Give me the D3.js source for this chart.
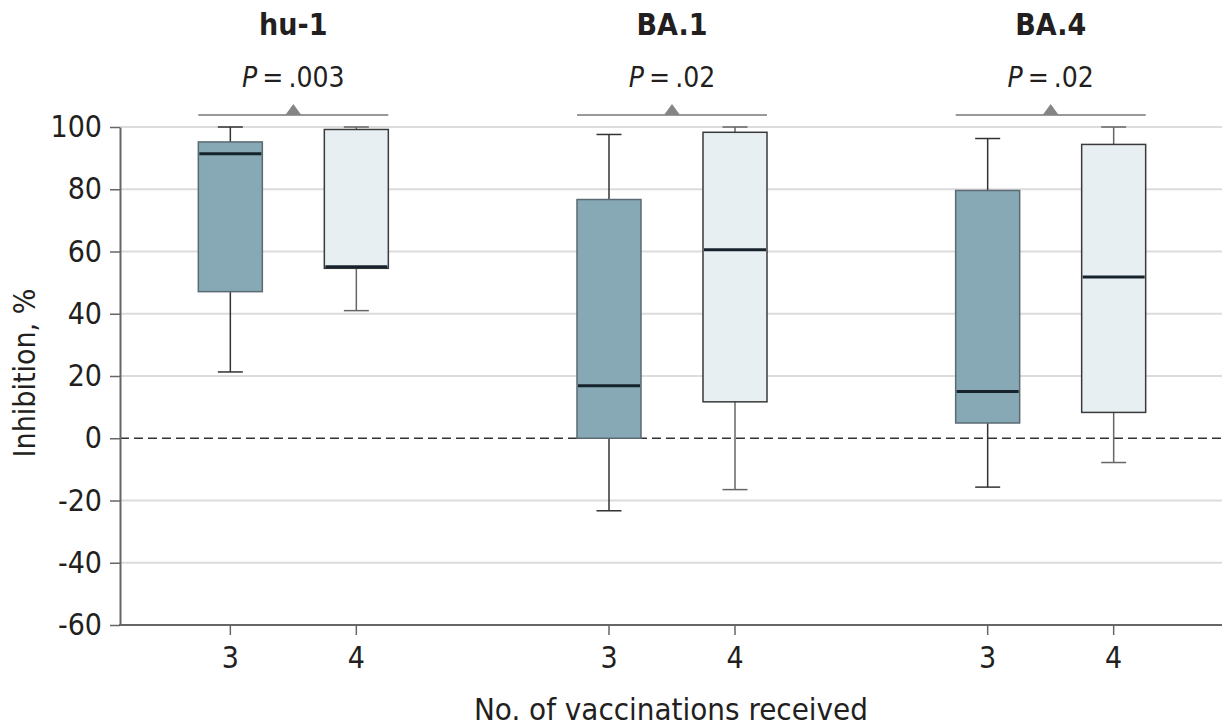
<!DOCTYPE html>
<html>
  <head>
    <meta charset="utf-8">
    <title>Inhibition by number of vaccinations</title>
    <script src="https://d3js.org/d3.v7.min.js"></script>
    <style>
      body { margin: 0; background: #fff; }
      svg text { font-family: "DejaVu Sans Condensed", "Liberation Sans Narrow", sans-serif; fill: #231f20; }
    </style>
  </head>
  <body>
    <div id="chart"></div>
    <script>
      // variants, doses and box stats (index 0 = 3 doses, 1 = 4 doses)
      var groups = ["hu-1", "BA.1", "BA.4"];
      var doses = ["3", "4"];
      var pLabels = [".003", ".02", ".02"];
      var whiskerLow  = [[21.3, 41.0], [-23.3, -16.5], [-15.7, -7.8]];
      var q1          = [[47.1, 54.6], [0.0, 11.7], [4.9, 8.3]];
      var median      = [[91.4, 55.1], [16.9, 60.6], [15.0, 51.8]];
      var q3          = [[95.2, 99.2], [76.7, 98.3], [79.6, 94.4]];
      var whiskerHigh = [[100, 100], [97.6, 100], [96.3, 100]];
      var yTicks = [-60, -40, -20, 0, 20, 40, 60, 80, 100];

      var width = 1222, height = 728;
      var plotLeft = 120, plotTop = 127, plotBottom = 625;

      var svg = d3.select("#chart").append("svg")
        .attr("width", width)
        .attr("height", height);

      var y = d3.scaleLinear().domain([-60, 100]).range([plotBottom, plotTop]);
      var x = d3.scaleBand().domain(groups).range([104, 1240]);
      var xIn = d3.scalePoint().domain(doses).range([-63, 63]);

      var boxW = 64, capW = 25;

      // gridlines
      svg.append("g").selectAll("line")
        .data(yTicks.filter(function(d) { return d != 0 && d != -60; }))
        .enter().append("line")
        .attr("x1", plotLeft).attr("x2", width)
        .attr("y1", function(d) { return y(d); })
        .attr("y2", function(d) { return y(d); })
        .attr("stroke", "#dcdcdc")
        .attr("stroke-width", 2);

      svg.append("line")
        .attr("x1", plotLeft).attr("x2", width)
        .attr("y1", y(0)).attr("y2", y(0))
        .attr("stroke", "#333")
        .attr("stroke-width", 1.3)
        .attr("stroke-dasharray", "9,5");

      // y axis (plain hyphen for negatives, as in the figure)
      var yAxis = svg.append("g")
        .attr("transform", "translate(" + plotLeft + ",0)")
        .call(d3.axisLeft(y).tickValues(yTicks).tickSize(10).tickSizeOuter(0).tickPadding(8)
          .tickFormat(function(d) { return String(d); }));
      yAxis.select(".domain").attr("stroke", "#666").attr("stroke-width", 2);
      yAxis.selectAll(".tick line").attr("stroke", "#666").attr("stroke-width", 1.5);
      yAxis.selectAll(".tick text")
        .style("font-size", "30px")
        .attr("fill", "#231f20");

      // x axis
      svg.append("line")
        .attr("x1", plotLeft - 1).attr("x2", width)
        .attr("y1", plotBottom).attr("y2", plotBottom)
        .attr("stroke", "#666").attr("stroke-width", 2);

      var rows = [];
      groups.forEach(function(g, gi) {
        doses.forEach(function(dz, di) {
          rows.push({
            group: g, dose: dz, di: di,
            cx: x(g) + x.bandwidth() / 2 + xIn(dz),
            lo: whiskerLow[gi][di], q1: q1[gi][di], med: median[gi][di],
            q3: q3[gi][di], hi: whiskerHigh[gi][di]
          });
        });
      });

      var xt = svg.append("g").selectAll("g").data(rows).enter().append("g");
      xt.append("line")
        .attr("x1", function(d) { return d.cx; }).attr("x2", function(d) { return d.cx; })
        .attr("y1", plotBottom).attr("y2", plotBottom + 10)
        .attr("stroke", "#666").attr("stroke-width", 1.5);
      xt.append("text")
        .attr("x", function(d) { return d.cx; })
        .attr("y", plotBottom + 43)
        .attr("text-anchor", "middle")
        .style("font-size", "30px")
        .text(function(d) { return d.dose; });

      // boxes
      var boxes = svg.append("g").selectAll("g").data(rows).enter().append("g");
      boxes.append("line")
        .attr("x1", function(d) { return d.cx; }).attr("x2", function(d) { return d.cx; })
        .attr("y1", function(d) { return y(d.hi); }).attr("y2", function(d) { return y(d.lo); })
        .attr("stroke", function(d) { return d.di == 0 ? "#333" : "#666"; })
        .attr("stroke-width", 1.5);
      boxes.selectAll("line.cap")
        .data(function(d) { return [d, d].map(function(r, i) { return {cx: r.cx, v: i ? r.lo : r.hi, di: r.di}; }); })
        .enter().append("line")
        .attr("class", "cap")
        .attr("x1", function(d) { return d.cx - capW / 2; }).attr("x2", function(d) { return d.cx + capW / 2; })
        .attr("y1", function(d) { return y(d.v); }).attr("y2", function(d) { return y(d.v); })
        .attr("stroke", function(d) { return d.di == 0 ? "#333" : "#666"; })
        .attr("stroke-width", 1.5);
      boxes.append("rect")
        .attr("x", function(d) { return d.cx - boxW / 2; })
        .attr("width", boxW)
        .attr("y", function(d) { return y(d.q3); })
        .attr("height", function(d) { return y(d.q1) - y(d.q3); })
        .attr("fill", function(d) { return d.di == 0 ? "#87a9b6" : "#e8eff3"; })
        .attr("stroke", function(d) { return d.di == 0 ? "#5a6a72" : "#3a3a3a"; })
        .attr("stroke-width", 1.5);
      boxes.append("line")
        .attr("x1", function(d) { return d.cx - boxW / 2 + 1; }).attr("x2", function(d) { return d.cx + boxW / 2 - 1; })
        .attr("y1", function(d) { return y(d.med); }).attr("y2", function(d) { return y(d.med); })
        .attr("stroke", "#17232c")
        .attr("stroke-width", 3);

      // titles and P values
      var head = svg.append("g").selectAll("g").data(groups).enter().append("g");
      head.append("text")
        .attr("x", function(d) { return x(d) + x.bandwidth() / 2; })
        .attr("y", 35)
        .attr("text-anchor", "middle")
        .style("font-size", "30px")
        .style("font-weight", "bold")
        .text(function(d) { return d; });
      var pt = head.append("text")
        .attr("x", function(d) { return x(d) + x.bandwidth() / 2; })
        .attr("y", 87)
        .attr("text-anchor", "middle")
        .style("font-size", "28px");
      pt.append("tspan").style("font-style", "italic").text("P");
      pt.append("tspan").text(function(d, i) { return "\u2009=\u2009" + pLabels[i]; });

      head.append("line")
        .attr("x1", function(d) { return x(d) + x.bandwidth() / 2 + xIn("3") - boxW / 2; })
        .attr("x2", function(d) { return x(d) + x.bandwidth() / 2 + xIn("4") + boxW / 2; })
        .attr("y1", plotTop - 12).attr("y2", plotTop - 12)
        .attr("stroke", "#777").attr("stroke-width", 1.5);
      head.append("path")
        .attr("d", function(d) {
          var c = x(d) + x.bandwidth() / 2, b = plotTop - 12;
          return "M" + (c - 8) + "," + b + "L" + c + "," + (b - 11) + "L" + (c + 8) + "," + b + "Z";
        })
        .attr("fill", "#858585");

      // axis titles
      svg.append("text")
        .attr("transform", "translate(35,373) rotate(-90)")
        .attr("text-anchor", "middle")
        .style("font-size", "30px")
        .text("Inhibition, %");
      svg.append("text")
        .attr("x", 671)
        .attr("y", 720)
        .attr("text-anchor", "middle")
        .style("font-size", "31px")
        .text("No. of vaccinations received");
    </script>
  </body>
</html>
